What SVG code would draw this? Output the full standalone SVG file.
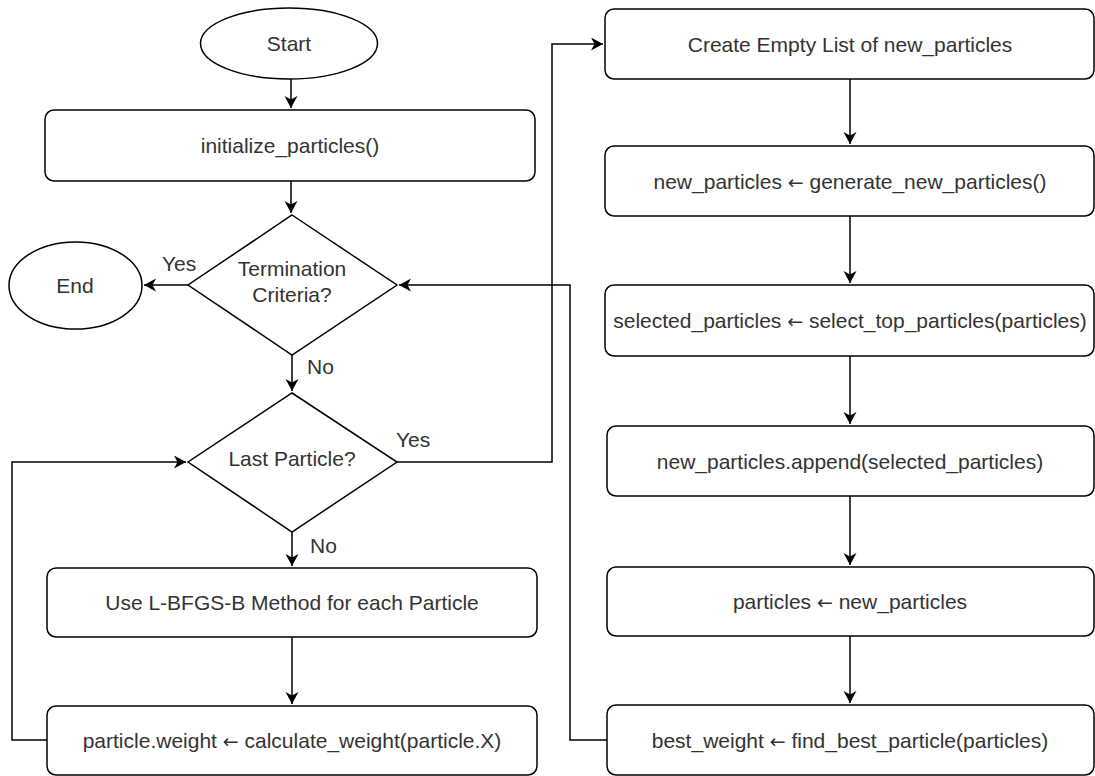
<svg xmlns="http://www.w3.org/2000/svg" width="1095" height="776" viewBox="0 0 1095 776">
<style>
.n{fill:#fff;stroke:#000;stroke-width:1.5}
.t{font-family:"Liberation Sans",Arial,sans-serif;font-size:21px;fill:#333;text-anchor:middle}
.l{font-family:"Liberation Sans",Arial,sans-serif;font-size:21px;fill:#333}
.ar{font-family:"DejaVu Sans",sans-serif;font-size:19px}
.c{fill:none;stroke:#000;stroke-width:1.5}
</style>
<defs>
<marker id="a" markerUnits="userSpaceOnUse" markerWidth="14" markerHeight="14" refX="12" refY="6.5" orient="auto">
<path d="M0,0 L12,6.5 L0,13 L3.5,6.5 z" fill="#000"/>
</marker>
</defs>
<rect width="1095" height="776" fill="#fff"/>
<g id="connectors">
<path class="c" d="M291,79 L291,108" marker-end="url(#a)"/>
<path class="c" d="M291,181 L291,213" marker-end="url(#a)"/>
<path class="c" d="M188,285 L144,285" marker-end="url(#a)"/>
<path class="c" d="M292,355 L292,391" marker-end="url(#a)"/>
<path class="c" d="M292,532 L292,566" marker-end="url(#a)"/>
<path class="c" d="M292,637 L292,704" marker-end="url(#a)"/>
<path class="c" d="M47,740 L12,740 L12,462 L186,462" marker-end="url(#a)"/>
<path class="c" d="M397,462 L552,462 L552,44 L603,44" marker-end="url(#a)"/>
<path class="c" d="M850,79 L850,144" marker-end="url(#a)"/>
<path class="c" d="M850,216 L850,283" marker-end="url(#a)"/>
<path class="c" d="M850,356 L850,424" marker-end="url(#a)"/>
<path class="c" d="M850,496 L850,565" marker-end="url(#a)"/>
<path class="c" d="M850,636 L850,703" marker-end="url(#a)"/>
<path class="c" d="M607,740 L570,740 L570,285 L399,285" marker-end="url(#a)"/>
<text class="l" x="162" y="271">Yes</text>
<text class="l" x="307" y="374">No</text>
<text class="l" x="396" y="447">Yes</text>
<text class="l" x="310" y="553">No</text>
</g>
<g id="start">
<ellipse class="n" cx="289" cy="43.5" rx="88.5" ry="35.5"/>
<text class="t" x="289" y="51">Start</text>
</g>
<g id="init">
<rect class="n" x="45" y="110" width="490" height="71" rx="9"/>
<text class="t" x="290" y="153">initialize_particles()</text>
</g>
<g id="termination">
<polygon class="n" points="292,215 397,285 292,355 188,285"/>
<text class="t" x="292" y="276">Termination</text>
<text class="t" x="292" y="302">Criteria?</text>
</g>
<g id="end">
<ellipse class="n" cx="75.5" cy="285.5" rx="66.5" ry="43.5"/>
<text class="t" x="75" y="293">End</text>
</g>
<g id="last">
<polygon class="n" points="292,393 397,462 292,532 188,462"/>
<text class="t" x="292" y="466">Last Particle?</text>
</g>
<g id="lbfgs">
<rect class="n" x="47" y="568" width="490" height="69" rx="9"/>
<text class="t" x="292" y="610">Use L-BFGS-B Method for each Particle</text>
</g>
<g id="calc">
<rect class="n" x="47" y="706" width="490" height="69" rx="9"/>
<text class="t" x="292" y="748">particle.weight <tspan class="ar">←</tspan> calculate_weight(particle.X)</text>
</g>
<g id="create">
<rect class="n" x="605" y="9" width="489" height="70" rx="9"/>
<text class="t" x="850" y="51.5">Create Empty List of new_particles</text>
</g>
<g id="generate">
<rect class="n" x="605" y="146" width="489" height="70" rx="9"/>
<text class="t" x="850" y="188.5">new_particles <tspan class="ar">←</tspan> generate_new_particles()</text>
</g>
<g id="select">
<rect class="n" x="605" y="285" width="489" height="71" rx="9"/>
<text class="t" x="850" y="328">selected_particles <tspan class="ar">←</tspan> select_top_particles(particles)</text>
</g>
<g id="append">
<rect class="n" x="607" y="426" width="487" height="70" rx="9"/>
<text class="t" x="850" y="468.5">new_particles.append(selected_particles)</text>
</g>
<g id="assign">
<rect class="n" x="607" y="567" width="487" height="69" rx="9"/>
<text class="t" x="850" y="609">particles <tspan class="ar">←</tspan> new_particles</text>
</g>
<g id="best">
<rect class="n" x="607" y="705" width="487" height="70" rx="9"/>
<text class="t" x="850" y="747.5">best_weight <tspan class="ar">←</tspan> find_best_particle(particles)</text>
</g>
</svg>
